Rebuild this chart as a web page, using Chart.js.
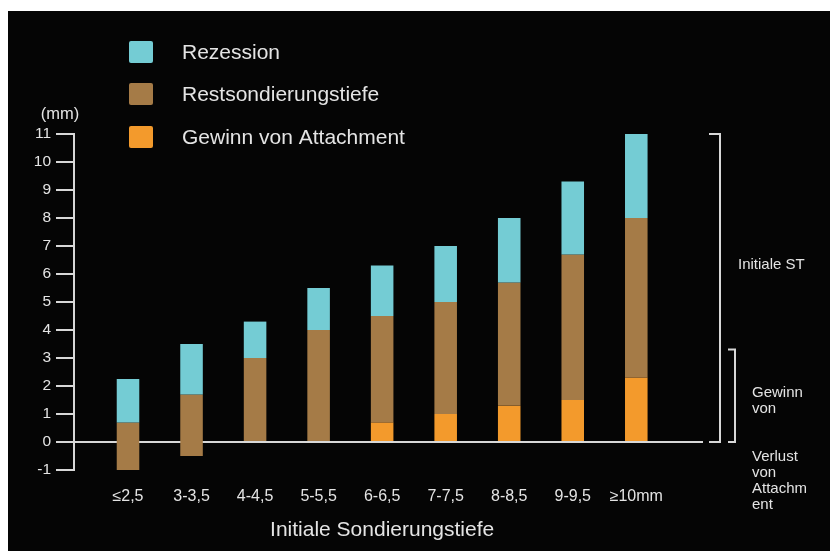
<!DOCTYPE html>
<html>
<head>
<meta charset="utf-8">
<script src="https://cdn.jsdelivr.net/npm/chart.js@4"></script>
<style>
  html, body { margin: 0; padding: 0; background: #fff; }
  #wrap { width: 830px; height: 551px; position: relative; }
</style>
</head>
<body>
<div id="wrap"><canvas id="c"></canvas></div>
<script>
// Initial probing depth classes
const categories = ['≤2,5', '3-3,5', '4-4,5', '5-5,5', '6-6,5', '7-7,5', '8-8,5', '9-9,5', '≥10mm'];
// Attachment change in mm (positive = gain, negative = loss)
const attachment = [-1, -0.5, 0, 0, 0.7, 1.0, 1.3, 1.5, 2.3];
// Residual probing depth in mm
const residualDepth = [1.7, 2.2, 3.0, 4.0, 3.8, 4.0, 4.4, 5.2, 5.7];
// Recession in mm
const recession = [1.55, 1.8, 1.3, 1.5, 1.8, 2.0, 2.3, 2.6, 3.0];
// Y axis ticks (mm)
const yTicks = [-1, 0, 1, 2, 3, 4, 5, 6, 7, 8, 9, 10, 11];

const FONT = '"Liberation Sans", Arial, sans-serif';
const TEXT = '#e4e4e4';
const LINE = '#d8d8d8';
const COL_REZ = '#74ccd4';
const COL_REST = '#a57b47';
const COL_GAIN = '#f39a2c';

// Floating segments: gain [0, a], residual [a, a+r], recession [a+r, a+r+rec]
const gainData = [], restData = [], rezData = [];
categories.forEach((c, i) => {
  const a = attachment[i], r = residualDepth[i], rec = recession[i];
  if (a > 0) gainData.push({ x: i + 1, y: [0, a] });
  restData.push({ x: i + 1, y: [a, a + r] });
  rezData.push({ x: i + 1, y: [a + r, a + r + rec] });
});

// Page background: white frame with black panel
const backdrop = {
  id: 'backdrop',
  beforeDraw(chart) {
    const { ctx, width, height } = chart;
    ctx.save();
    ctx.fillStyle = '#ffffff';
    ctx.fillRect(0, 0, width, height);
    ctx.fillStyle = '#050505';
    ctx.fillRect(8, 11, width - 8, height - 11);
    ctx.restore();
  }
};

// Legend, unit label, axis title and the brackets on the right
const decorations = {
  id: 'decorations',
  afterDraw(chart) {
    const { ctx } = chart;
    const y = chart.scales.y, x = chart.scales.x;
    ctx.save();

    // legend (vertical list with square swatches)
    const rows = [52, 94, 137];
    chart.data.datasets.forEach((ds, i) => {
      ctx.fillStyle = ds.backgroundColor;
      ctx.beginPath();
      ctx.roundRect(129, rows[i] - 11, 24, 22, 2);
      ctx.fill();
      ctx.fillStyle = TEXT;
      ctx.font = '21px ' + FONT;
      ctx.textAlign = 'left';
      ctx.textBaseline = 'middle';
      ctx.fillText(ds.label, 182, rows[i] + 1);
    });

    // unit label
    ctx.fillStyle = TEXT;
    ctx.font = '16.5px ' + FONT;
    ctx.textAlign = 'center';
    ctx.fillText('(mm)', 60, 114);

    // axis title
    ctx.font = '21px ' + FONT;
    const cx = (x.getPixelForValue(1) + x.getPixelForValue(categories.length)) / 2;
    ctx.fillText('Initiale Sondierungstiefe', cx, 530);

    // brackets
    ctx.strokeStyle = LINE;
    ctx.lineWidth = 2;
    const top = y.getPixelForValue(11), zero = y.getPixelForValue(0);
    ctx.beginPath();
    ctx.moveTo(709, top); ctx.lineTo(720, top); ctx.lineTo(720, zero); ctx.lineTo(709, zero);
    ctx.stroke();
    const sTop = y.getPixelForValue(3.3), sBot = y.getPixelForValue(0);
    ctx.beginPath();
    ctx.moveTo(728, sTop); ctx.lineTo(735, sTop); ctx.lineTo(735, sBot); ctx.lineTo(728, sBot);
    ctx.stroke();

    // side labels
    ctx.fillStyle = TEXT;
    ctx.font = '15px ' + FONT;
    ctx.textAlign = 'left';
    ctx.fillText('Initiale ST', 738, 265);
    ['Gewinn', 'von'].forEach((t, i) => ctx.fillText(t, 752, 393 + i * 16));
    ['Verlust', 'von', 'Attachm', 'ent'].forEach((t, i) => ctx.fillText(t, 752, 457 + i * 16));

    ctx.restore();
  }
};

new Chart(document.getElementById('c'), {
  type: 'bar',
  data: {
    datasets: [
      { label: 'Rezession', data: rezData, backgroundColor: COL_REZ },
      { label: 'Restsondierungstiefe', data: restData, backgroundColor: COL_REST },
      { label: 'Gewinn von Attachment', data: gainData, backgroundColor: COL_GAIN }
    ]
  },
  options: {
    responsive: true,
    maintainAspectRatio: false,
    animation: false,
    layout: { padding: { left: 34, right: 127, top: 134, bottom: 21 } },
    datasets: { bar: { categoryPercentage: 1, barPercentage: 0.355 } },
    plugins: { legend: { display: false }, tooltip: { enabled: false } },
    scales: {
      x: {
        type: 'linear',
        offset: false,
        stacked: true,
        min: 0.15,
        max: 10.05,
        afterBuildTicks: s => { s.ticks = categories.map((c, i) => ({ value: i + 1 })); },
        afterFit: s => { s.height = 60; },
        ticks: {
          autoSkip: false,
          maxRotation: 0,
          padding: 9,
          color: TEXT,
          font: { family: FONT, size: 16 },
          callback: v => categories[v - 1] ?? ''
        },
        grid: { display: false },
        border: { display: false }
      },
      y: {
        stacked: false,
        min: -1,
        max: 11,
        afterBuildTicks: s => { s.ticks = yTicks.map(v => ({ value: v })); },
        afterFit: s => { s.width = 40; },
        ticks: { padding: 5, color: TEXT, font: { family: FONT, size: 15.5 } },
        grid: {
          drawOnChartArea: true,
          color: c => (c.tick && c.tick.value === 0 ? LINE : 'transparent'),
          tickColor: LINE,
          tickLength: 18,
          lineWidth: 2
        },
        border: { display: true, color: LINE, width: 2 }
      }
    }
  },
  plugins: [backdrop, decorations]
});
</script>
</body>
</html>
